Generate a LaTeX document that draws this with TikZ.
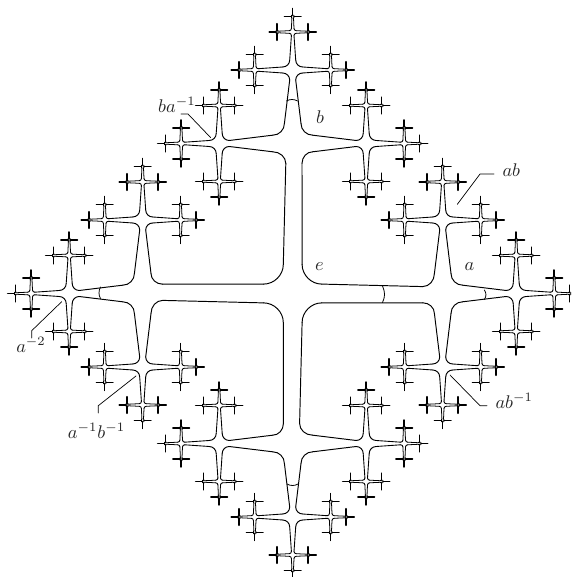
\documentclass[tikz,border=0pt]{standalone}
\newcommand{\pxu}{0.5714pt}
% #1 L, #2 g of vertex, #3 r of vertex, #4 left end offset, #5 right end offset
\newcommand{\corners}[5]{%
  \draw (#1-#3,#4) .. controls (#1-#3+0.55*#3-0.55*#2,#4) and (#1-#2,#3-0.55*#3+0.55*#4) .. (#1-#2,#3);
  \draw (#1-#3,-#5) .. controls (#1-#3+0.55*#3-0.55*#2,-#5) and (#1-#2,-#3+0.55*#3-0.55*#5) .. (#1-#2,-#3);
  \draw (#1+#2,#3) .. controls (#1+#2,#3-0.55*#3+0.55*#2) and (#1+#3-0.55*#3+0.55*#2,#2) .. (#1+#3,#2);
  \draw (#1+#2,-#3) .. controls (#1+#2,-#3+0.55*#3-0.55*#2) and (#1+#3-0.55*#3+0.55*#2,-#2) .. (#1+#3,-#2);
}
% #1 L,#2 g0,#3 r0,#4 gLeft end,#5 gRight end,#6 r end
\newcommand{\bandlines}[6]{%
  \draw (#3,#2) -- (#1-#6,#4);
  \draw (#3,-#2) -- (#1-#6,-#5);
}
\newcommand{\children}[1]{%
  \begin{scope}[rotate=0]#1\end{scope}%
  \begin{scope}[rotate=90]#1\end{scope}%
  \begin{scope}[rotate=-90]#1\end{scope}%
}
\newcommand{\terminal}{%
  \bandlines{15.5}{1.3}{3.5}{0.8}{0.8}{1.4}
  \corners{15.5}{0.8}{1.4}{0.8}{0.8}
  \draw[line width=0.85pt] (15.5,-8.3) -- (15.5,8.3) (15.5,0) -- (23.5,0);
  \fill[white] (15.5,0) circle (0.7);
}
\newcommand{\levelthree}{%
  \bandlines{38}{3}{10}{1.3}{1.3}{3.5}
  \corners{38}{1.3}{3.5}{1.3}{1.3}
  \begin{scope}[shift={(38,0)},line width=0.45pt]\children{\terminal}\end{scope}
}
\newcommand{\leveltwo}{%
  \bandlines{73.5}{8.3}{20}{3}{3}{10}
  \corners{73.5}{3}{10}{3}{3}
  \begin{scope}[shift={(73.5,0)},line width=0.5pt]\children{\levelthree}\end{scope}
}
\newcommand{\levelone}{%
  \draw (9.4,29) .. controls (9.4,18.5) and (18.5,9.4) .. (29,9.4);
  \bandlines{150}{9.4}{29}{6.9}{9.3}{20}
  \corners{150}{8.3}{20}{6.9}{9.3}
  \begin{scope}[shift={(150,0)}]\children{\leveltwo}\end{scope}
}
\tikzset{
  lab/.style={inner sep=0pt,text=black!85,scale=1.05},
  leader/.style={line width=0.4pt},
  tickarc/.style={line width=0.45pt}
}
\begin{document}
\begin{tikzpicture}[x=\pxu,y=\pxu,line width=0.55pt,line cap=round]
\useasboundingbox (0,0) rectangle (571,577);
\clip (0,0) rectangle (571,577);
\begin{scope}[shift={(292.7,283.5)}]
  \foreach \ang in {0,90,180,270}{
    \begin{scope}[rotate=\ang]\levelone\end{scope}
  }
\end{scope}
% edge ticks
\coordinate (t1a) at (382.5,291); \coordinate (t1b) at (382.5,274.5);
\draw[tickarc] (t1a) .. controls (385.2,285) and (385.2,280) .. (t1b);
\coordinate (t2a) at (484.3,287); \coordinate (t2b) at (484.3,277.5);
\draw[tickarc] (t2a) .. controls (486.5,284) and (486.5,280.5) .. (t2b);
\coordinate (t3a) at (100.5,290); \coordinate (t3b) at (100.5,278.5);
\draw[tickarc] (t3a) .. controls (98.5,286) and (98.5,282) .. (t3b);
\coordinate (t4a) at (287,93); \coordinate (t4b) at (298,93);
\draw[tickarc] (t4a) .. controls (290.5,91) and (294.5,91) .. (t4b);
\coordinate (t5a) at (286.5,476); \coordinate (t5b) at (297.5,476);
\draw[tickarc] (t5a) .. controls (290,478) and (294,478) .. (t5b);
% labels
\node[lab] (ne) at (319.5,310.5) {$e$};
\node[lab] (na) at (469.5,310.5) {$a$};
\node[lab] (nb) at (320,460) {$b$};
\node[lab,anchor=west] (nab) at (502,407) {$ab$};
\node[lab,anchor=east] (nba) at (196,472) {$ba^{-1}$};
\node[lab] (naa) at (31,232) {$a^{-2}$};
\node[lab] (nabi) at (96.5,146) {$a^{-1}b^{-1}$};
\node[lab,anchor=west] (nabj) at (495,176) {$ab^{-1}$};
% leaders
\coordinate (l1) at (457.3,372.7); \coordinate (l1b) at (480,403); \coordinate (l1c) at (494,403);
\draw[leader] (l1) -- (l1b) -- (l1c);
\coordinate (l2) at (210.7,439.3); \coordinate (l2b) at (188,463);
\coordinate (l2c) at (181,463);
\draw[leader] (l2) -- (l2b) -- (l2c);
\coordinate (l3) at (61.7,275.3); \coordinate (l3b) at (31.7,246.3); \coordinate (l3c) at (31.7,239);
\draw[leader] (l3) -- (l3b) -- (l3c);
\coordinate (l4) at (136,201); \coordinate (l4b) at (98.3,171.3); \coordinate (l4c) at (98.3,164);
\draw[leader] (l4) -- (l4b) -- (l4c);
\coordinate (l5) at (450,202); \coordinate (l5b) at (480,171.3); \coordinate (l5c) at (487,171.3);
\draw[leader] (l5) -- (l5b) -- (l5c);
\end{tikzpicture}
\end{document}
